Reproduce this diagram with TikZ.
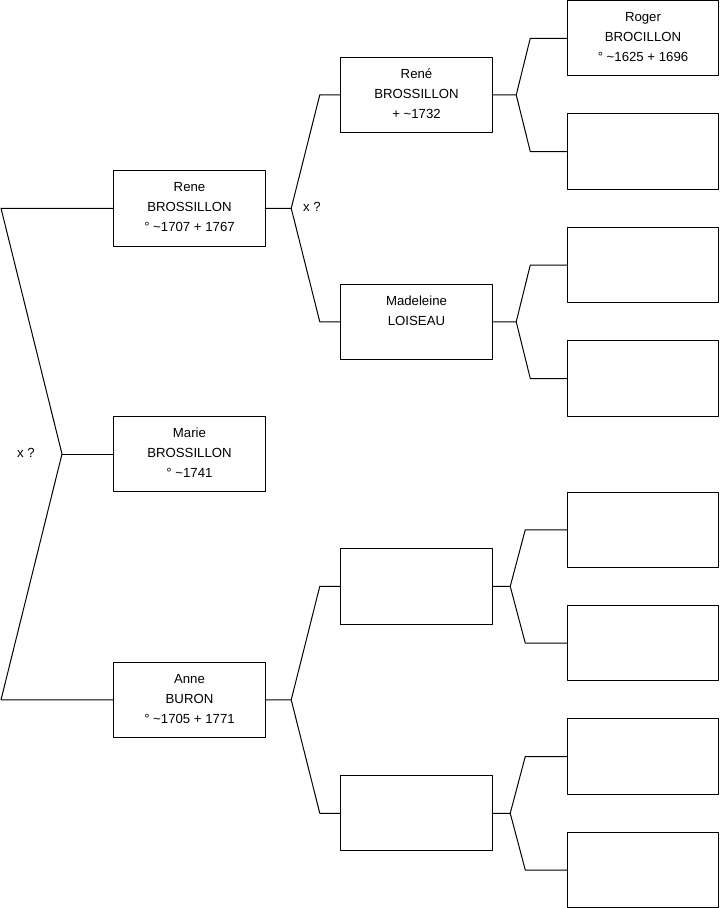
\documentclass[tikz,border=0pt]{standalone}
\usepackage{fontspec}
\setmainfont{Liberation Sans}
\begin{document}
\begin{tikzpicture}[x=0.75pt, y=-0.75pt, line join=round, line cap=round,
	trait/.style={line width=0.75pt},
	hop/.style={draw=black, line width=0.75pt, rectangle, minimum width=113.6pt, minimum height=56.6pt,
		inner sep=0pt, outer sep=0pt, align=center, font=\fontsize{9.9}{15}\selectfont},
	note/.style={inner sep=0pt, font=\fontsize{9.9}{15}\selectfont}]
	\useasboundingbox (0,0) rectangle (719,908);
	
	% 1. Première génération (colonne de gauche)
	\node[hop] (rene) at (189.5,208.3) {Rene\\BROSSILLON\\° \textasciitilde1707 + 1767\rule[-1.5pt]{0pt}{0pt}};
	\node[hop] (marie) at (189.5,454) {Marie\\BROSSILLON\\° \textasciitilde1741\rule[-1.5pt]{0pt}{0pt}};
	\node[hop] (anne) at (189.5,699.8) {Anne\\BURON\\° \textasciitilde1705 + 1771\rule[-1.5pt]{0pt}{0pt}};
	
	% 2. Parents
	\node[hop] (renep) at (416.5,94.9) {René\\BROSSILLON\\+ \textasciitilde1732\rule[-1.5pt]{0pt}{0pt}};
	\node[hop] (madeleine) at (416.5,321.75) {Madeleine\\LOISEAU\\\rule[-1.5pt]{0pt}{0pt}};
	\node[hop] (anneP) at (416.5,586.4) {};
	\node[hop] (anneM) at (416.5,813.25) {};
	
	% 3. Grands-parents (colonne de droite)
	\node[hop] (roger) at (643,38.25) {Roger\\BROCILLON\\° \textasciitilde1625 + 1696\rule[-1.5pt]{0pt}{0pt}};
	\node[hop] (rogerF) at (643,151.5) {};
	\node[hop] (madP) at (643,265) {};
	\node[hop] (madM) at (643,378.5) {};
	\node[hop] (annePP) at (643,529.75) {};
	\node[hop] (annePM) at (643,643) {};
	\node[hop] (anneMP) at (643,756.5) {};
	\node[hop] (anneMM) at (643,870) {};
	
	% 4. Fourche de gauche (parents de Marie)
	\coordinate (g0) at (62,454);
	\coordinate (g0_haut) at (1,208.3);
	\coordinate (g0_bas) at (1,699.8);
	\draw[trait] (rene.west) -- (g0_haut) -- (g0) -- (g0_bas) -- (anne.west);
	\draw[trait] (g0) -- (marie.west);
	\node[note] (x0) at (26,452.7) {x ?};
	
	% 5. Fourches vers les parents
	\draw[trait] (rene.east) -- ++(26,0) coordinate (f1)
		-- ([xshift=-15.75pt]renep.west) -- (renep.west);
	\draw[trait] (f1) -- ([xshift=-15.75pt]madeleine.west) -- (madeleine.west);
	\node[note] (x1) at (312,207) {x ?};
	
	\draw[trait] (anne.east) -- ++(26,0) coordinate (f2)
		-- ([xshift=-15.75pt]anneP.west) -- (anneP.west);
	\draw[trait] (f2) -- ([xshift=-15.75pt]anneM.west) -- (anneM.west);
	
	% 6. Fourches vers les grands-parents
	\draw[trait] (renep.east) -- ++(24,0) coordinate (f3)
		-- ([xshift=-27.75pt]roger.west) -- (roger.west);
	\draw[trait] (f3) -- ([xshift=-27.75pt]rogerF.west) -- (rogerF.west);
	
	\draw[trait] (madeleine.east) -- ++(24,0) coordinate (f4)
		-- ([xshift=-27.75pt]madP.west) -- (madP.west);
	\draw[trait] (f4) -- ([xshift=-27.75pt]madM.west) -- (madM.west);
	
	\draw[trait] (anneP.east) -- ++(18,0) coordinate (f5)
		-- ([xshift=-31.5pt]annePP.west) -- (annePP.west);
	\draw[trait] (f5) -- ([xshift=-31.5pt]annePM.west) -- (annePM.west);
	
	\draw[trait] (anneM.east) -- ++(18,0) coordinate (f6)
		-- ([xshift=-31.5pt]anneMP.west) -- (anneMP.west);
	\draw[trait] (f6) -- ([xshift=-31.5pt]anneMM.west) -- (anneMM.west);
\end{tikzpicture}
\end{document}
